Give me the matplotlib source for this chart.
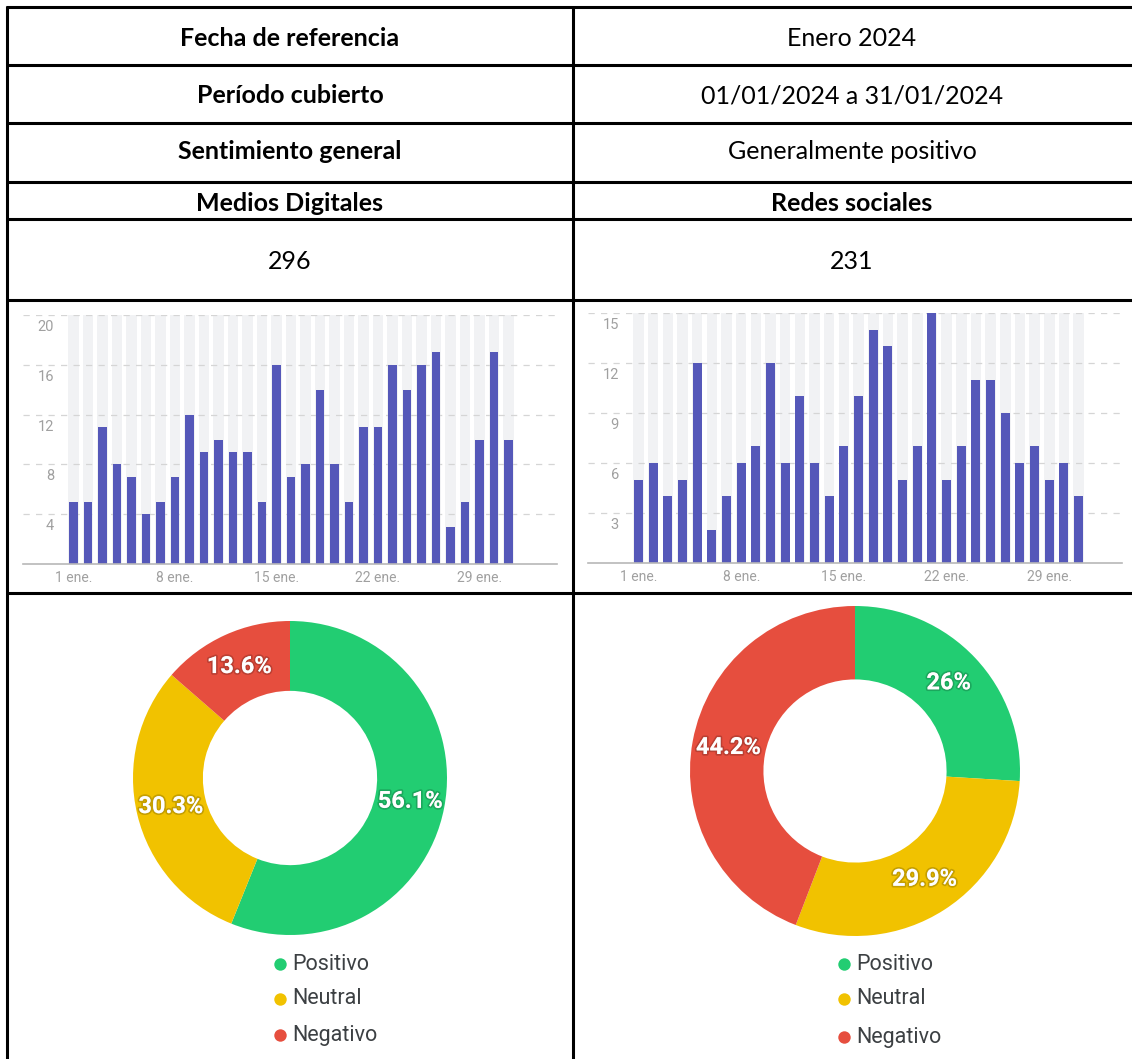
import numpy as np
import matplotlib.pyplot as plt
import matplotlib.patheffects as pe
from matplotlib.transforms import offset_copy

W, H = 1132, 1059

# datos diarios de enero 2024
dias = list(range(1, 32))
medios_diarios = [5, 5, 11, 8, 7, 4, 5, 7, 12, 9, 10, 9, 9, 5, 16, 7,
                  8, 14, 8, 5, 11, 11, 16, 14, 16, 17, 3, 5, 10, 17, 10]
redes_diarias = [5, 6, 4, 5, 12, 2, 4, 6, 7, 12, 6, 10, 6, 4, 7, 10,
                 14, 13, 5, 7, 15, 5, 7, 11, 11, 9, 6, 7, 5, 6, 4]
dias_marcados = [1, 8, 15, 22, 29]
etiquetas_dias = ["1 ene.", "8 ene.", "15 ene.", "22 ene.", "29 ene."]

sentimientos = ["Positivo", "Neutral", "Negativo"]
medios_pct = [56.1, 30.3, 13.6]
redes_pct = [26.0, 29.9, 44.2]
medios_etiquetas = ["56.1%", "30.3%", "13.6%"]
redes_etiquetas = ["26%", "29.9%", "44.2%"]
colores = ["#22cd72", "#f1c200", "#e64e3e"]

tabla_izq = ["Fecha de referencia", "Período cubierto", "Sentimiento general",
             "Medios Digitales", "296"]
tabla_der = ["Enero 2024", "01/01/2024 a 31/01/2024", "Generalmente positivo",
             "Redes sociales", "231"]
negrita_izq = [True, True, True, True, False]
negrita_der = [False, False, False, True, False]

fig = plt.figure(figsize=(W / 100, H / 100), dpi=100)


def px_axes(x0, y0, x1, y1):
    return fig.add_axes([x0 / W, 1 - y1 / H, (x1 - x0) / W, (y1 - y0) / H])


# tabla de fondo
bg = px_axes(0, 0, W, H)
bg.set_xlim(0, W)
bg.set_ylim(H, 0)
bg.axis("off")
for y in [7, 65, 123, 182, 219, 300, 593]:
    bg.plot([6, W], [y, y], color="black", lw=2.2, solid_capstyle="butt")
for x in [7, 573]:
    bg.plot([x, x], [6, H], color="black", lw=2.2, solid_capstyle="butt")

baselines = [46, 103, 159, 211, 269]
for i, yb in enumerate(baselines):
    bg.text(290, yb, tabla_izq[i], ha="center", va="baseline", fontsize=18,
            family="Lato", fontweight="bold" if negrita_izq[i] else "normal")
    bg.text(852, yb, tabla_der[i], ha="center", va="baseline", fontsize=18,
            family="Lato", fontweight="bold" if negrita_der[i] else "normal")


def barras(x0, x1, y_top, y_base, valores, ymax, paso, px_dia1, pitch):
    ax = px_axes(x0, y_top, x1, y_base)
    ax.set_xlim(1 + (x0 - px_dia1) / pitch, 1 + (x1 - px_dia1) / pitch)
    ax.set_ylim(0, ymax)
    ax.bar(dias, [ymax] * len(dias), width=0.72, color="#f1f2f4", zorder=0)
    for v in range(paso, ymax + 1, paso):
        ax.axhline(v, color="#d5d5d5", lw=0.9, dashes=(5, 5), zorder=1)
        tr = offset_copy(ax.get_yaxis_transform(), fig=fig, y=-5, units="dots")
        ax.text(0.058, v, str(v), transform=tr, ha="right", va="top",
                fontsize=10.5, family="Roboto", color="#a0a0a0")
    ax.bar(dias, valores, width=0.62, color="#5558b9", zorder=2)
    for s in ["top", "left", "right"]:
        ax.spines[s].set_visible(False)
    ax.spines["bottom"].set_color("#b8b8b8")
    ax.spines["bottom"].set_linewidth(1.2)
    ax.set_yticks([])
    ax.set_xticks(dias_marcados, etiquetas_dias, fontsize=10, family="Roboto",
                  color="#a0a0a0")
    ax.tick_params(axis="x", length=0, pad=5)
    ax.patch.set_alpha(0)
    return ax


barras(23, 557, 315, 564, medios_diarios, 20, 4, 73.5, 14.5)
barras(588, 1122, 313, 563, redes_diarias, 15, 3, 638.5, 14.67)


def dona(cx, cy, r, valores, etiquetas, leg_x, leg_ys):
    ax = px_axes(cx - r, cy - r, cx + r, cy + r)
    wedges, _ = ax.pie(valores, colors=colores, startangle=90, counterclock=False,
                       radius=1, wedgeprops=dict(width=0.445, linewidth=0))
    ax.set_xlim(-1, 1)
    ax.set_ylim(-1, 1)
    ax.set_aspect("equal")
    for w, txt in zip(wedges, etiquetas):
        ang = np.deg2rad((w.theta1 + w.theta2) / 2)
        ax.text(0.78 * np.cos(ang), 0.78 * np.sin(ang), txt, ha="center", va="center",
                fontsize=17, family="Roboto", fontweight="bold", color="white",
                path_effects=[pe.withStroke(linewidth=2.5, foreground=(0, 0, 0, 0.18))])
    for i, nombre in enumerate(sentimientos):
        bg.scatter([leg_x], [leg_ys[i]], s=80, color=colores[i], lw=0)
        bg.text(leg_x + 12, leg_ys[i], nombre, ha="left", va="center", fontsize=15.5,
                family="Roboto", color="#3c4043")


dona(290, 778, 157, medios_pct, medios_etiquetas, 280, [964, 999, 1035])
dona(855, 771, 165, redes_pct, redes_etiquetas, 844, [964, 999, 1037])

fig.savefig("out.png", dpi=100)
